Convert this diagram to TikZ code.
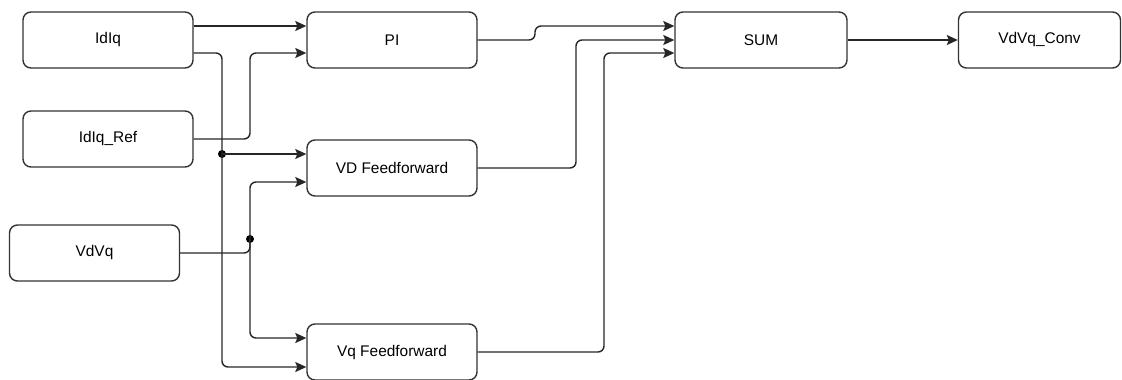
\documentclass[tikz,border=0pt]{standalone}
\usepackage{fontspec}
\setmainfont{Liberation Sans}
\usetikzlibrary{arrows.meta}
\begin{document}
\begin{tikzpicture}[x=1bp,y=-1bp,
  block/.style={draw=black!80,line width=1.4bp,rounded corners=8bp,minimum width=170bp,minimum height=56bp,inner sep=0pt,font=\fontsize{15.5}{18}\selectfont},
  wire/.style={draw=black!85,line width=1.4bp,rounded corners=6bp},
  arr/.style={wire,-{Triangle[length=11bp,width=10bp,inset=2bp]}},
  junct/.style={circle,fill=black,inner sep=0pt,minimum size=8bp}]
\useasboundingbox (0,0) rectangle (1122,379);
% blocks
\node[block] (idiq) at (108,40) {IdIq};
\node[block] (idiqref) at (108,139) {IdIq\_Ref};
\node[block] (vdvq) at (94.5,253) {VdVq};
\node[block] (pi) at (392,40) {PI};
\node[block] (vdff) at (392,168) {VD Feedforward};
\node[block] (vqff) at (392,352) {Vq Feedforward};
\node[block,minimum width=172bp] (sum) at (761,40) {SUM};
\node[block,minimum width=162bp] (conv) at (1039.5,40) {VdVq\_Conv};
% junctions
\node[junct] (j1) at (222,154) {};
\node[junct] (j2) at (250,239) {};
% current measurement paths
\draw[arr] (idiq.east |- 0,26) -- (pi.west |- 0,26);
\draw[arr] (idiq.east |- 0,53) -- (222,53) -- (222,367) -- (vqff.west |- 0,367);
\draw[arr] (j1.center) -- (vdff.west |- j1);
\draw[arr] (idiqref.east) -- (250,139) -- (250,53) -- (pi.west |- 0,53);
% voltage paths
\draw[arr] (vdvq.east) -- (250,253) -- (250,182) -- (vdff.west |- 0,182);
\draw[arr] (j2.center) -- (250,338) -- (vqff.west |- 0,338);
% into the summation
\draw[arr] (pi.east) -- (535,40) -- (535,26) -- (sum.west |- 0,26);
\draw[arr] (vdff.east) -- (576,168) -- (576,40) -- (sum.west);
\draw[arr] (vqff.east) -- (604,352) -- (604,53) -- (sum.west |- 0,53);
\draw[arr] (sum.east) -- (conv.west);
\end{tikzpicture}
\end{document}
